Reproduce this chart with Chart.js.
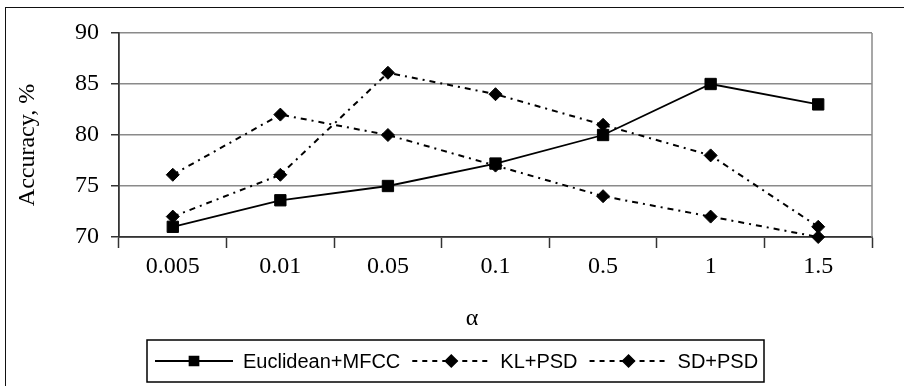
<!DOCTYPE html>
<html>
<head>
<meta charset="utf-8">
<script src="https://cdn.jsdelivr.net/npm/chart.js@4"></script>
<style>
  html, body { margin: 0; padding: 0; background: #fff; overflow: hidden; }
  #wrap { position: relative; width: 904px; height: 386px; overflow: hidden; }
  #frame { position: absolute; left: 5px; top: 7px; width: 1000px; height: 500px;
           border: 1.5px solid #111; box-sizing: border-box; }
  canvas { position: absolute; left: 0; top: 0; }
</style>
</head>
<body>
<div id="wrap">
  <div id="frame"></div>
  <canvas id="chart" width="904" height="386"></canvas>
</div>
<script>
// Smoothing parameter values on the horizontal axis
const alphaLabels = ['0.005', '0.01', '0.05', '0.1', '0.5', '1', '1.5'];

// Recognition accuracy (%) for each method
const euclideanMfcc = [71, 73.6, 75, 77.2, 80, 85, 83];
const klPsd = [76.1, 82, 80, 77, 74, 72, 70];
const sdPsd = [72, 76.1, 86.1, 84, 81, 78, 71];

const yTicks = [70, 75, 80, 85, 90];

const serif = '"Liberation Serif", "Times New Roman", serif';
const sans = '"Liberation Sans", Arial, sans-serif';

// Axis titles, legend box and the right edge of the plot frame
const decorations = {
  id: 'decorations',
  beforeDatasetsDraw(chart) {
    const { ctx, chartArea } = chart;
    ctx.save();
    ctx.strokeStyle = '#8a8a8a';
    ctx.lineWidth = 1.5;
    ctx.beginPath();
    ctx.moveTo(chartArea.right, chartArea.top);
    ctx.lineTo(chartArea.right, chartArea.bottom);
    ctx.stroke();
    ctx.restore();
  },
  afterDraw(chart) {
    const { ctx } = chart;
    ctx.save();
    ctx.fillStyle = '#000';

    // vertical axis title
    ctx.save();
    ctx.translate(28, 145);
    ctx.rotate(-Math.PI / 2);
    ctx.font = '24px ' + serif;
    ctx.textAlign = 'center';
    ctx.textBaseline = 'middle';
    ctx.fillText('Accuracy, %', 0, 0);
    ctx.restore();

    // horizontal axis title
    ctx.font = '24px ' + serif;
    ctx.textAlign = 'center';
    ctx.textBaseline = 'middle';
    ctx.fillText('α', 472, 319);

    // legend
    const box = { left: 147, top: 340, right: 764, bottom: 382 };
    ctx.strokeStyle = '#000';
    ctx.lineWidth = 1.5;
    ctx.strokeRect(box.left, box.top, box.right - box.left, box.bottom - box.top);
    const cy = (box.top + box.bottom) / 2;
    ctx.font = '20px ' + sans;
    ctx.textAlign = 'left';
    ctx.textBaseline = 'middle';
    let x = 155;
    chart.data.datasets.forEach(ds => {
      const sampleLen = 78;
      ctx.save();
      ctx.strokeStyle = '#000';
      ctx.lineWidth = ds.borderWidth;
      ctx.setLineDash(ds.borderDash.length ? [5, 5] : []);
      ctx.beginPath();
      ctx.moveTo(x, cy);
      ctx.lineTo(x + sampleLen, cy);
      ctx.stroke();
      ctx.restore();
      Chart.helpers.drawPoint(ctx, {
        pointStyle: ds.pointStyle,
        radius: ds.pointStyle === 'rect' ? 6.5 : 6,
        borderWidth: 1
      }, x + sampleLen / 2, cy);
      ctx.fillStyle = '#000';
      ctx.fillText(ds.label, x + 88, cy + 1);
      x += 88 + ctx.measureText(ds.label).width + 12;
    });
    ctx.restore();
  }
};

const ctx = document.getElementById('chart').getContext('2d');
new Chart(ctx, {
  type: 'line',
  data: {
    labels: alphaLabels,
    datasets: [
      {
        label: 'Euclidean+MFCC',
        data: euclideanMfcc,
        borderColor: '#000',
        backgroundColor: '#000',
        borderWidth: 1.8,
        borderDash: [],
        pointStyle: 'rect',
        pointRadius: 8,
        pointBorderWidth: 1,
        pointBackgroundColor: '#000',
        pointBorderColor: '#000',
        clip: false
      },
      {
        label: 'KL+PSD',
        data: klPsd,
        borderColor: '#000',
        backgroundColor: '#000',
        borderWidth: 2,
        borderDash: [6, 5, 2, 5],
        pointStyle: 'rectRot',
        pointRadius: 6.5,
        pointBorderWidth: 1,
        pointBackgroundColor: '#000',
        pointBorderColor: '#000',
        clip: false
      },
      {
        label: 'SD+PSD',
        data: sdPsd,
        borderColor: '#000',
        backgroundColor: '#000',
        borderWidth: 2,
        borderDash: [6, 5, 2, 5],
        pointStyle: 'rectRot',
        pointRadius: 6.5,
        pointBorderWidth: 1,
        pointBackgroundColor: '#000',
        pointBorderColor: '#000',
        clip: false
      }
    ]
  },
  options: {
    responsive: false,
    animation: false,
    devicePixelRatio: 1,
    layout: { padding: { left: 0, top: 33, right: 32, bottom: 0 } },
    plugins: {
      legend: { display: false },
      tooltip: { enabled: false }
    },
    elements: { line: { tension: 0 } },
    scales: {
      x: {
        offset: true,
        grid: {
          offset: true,
          drawOnChartArea: false,
          drawTicks: true,
          tickLength: 11,
          tickColor: '#333',
          tickWidth: 1.5
        },
        border: { color: '#333', width: 1.8 },
        ticks: {
          color: '#000',
          font: { family: serif, size: 24 },
          padding: 4,
          maxRotation: 0,
          autoSkip: false
        },
        afterFit(scale) { scale.height = 386 - 237; }
      },
      y: {
        min: 70,
        max: 90,
        afterBuildTicks(scale) { scale.ticks = yTicks.map(v => ({ value: v })); },
        grid: {
          color: '#8a8a8a',
          lineWidth: 1.5,
          drawTicks: true,
          tickLength: 8,
          tickColor: '#333',
          tickWidth: 1.5
        },
        border: { color: '#333', width: 1.8 },
        ticks: {
          color: '#000',
          font: { family: serif, size: 24 },
          padding: 12
        },
        afterFit(scale) { scale.width = 119; }
      }
    }
  },
  plugins: [decorations]
});
</script>
</body>
</html>
